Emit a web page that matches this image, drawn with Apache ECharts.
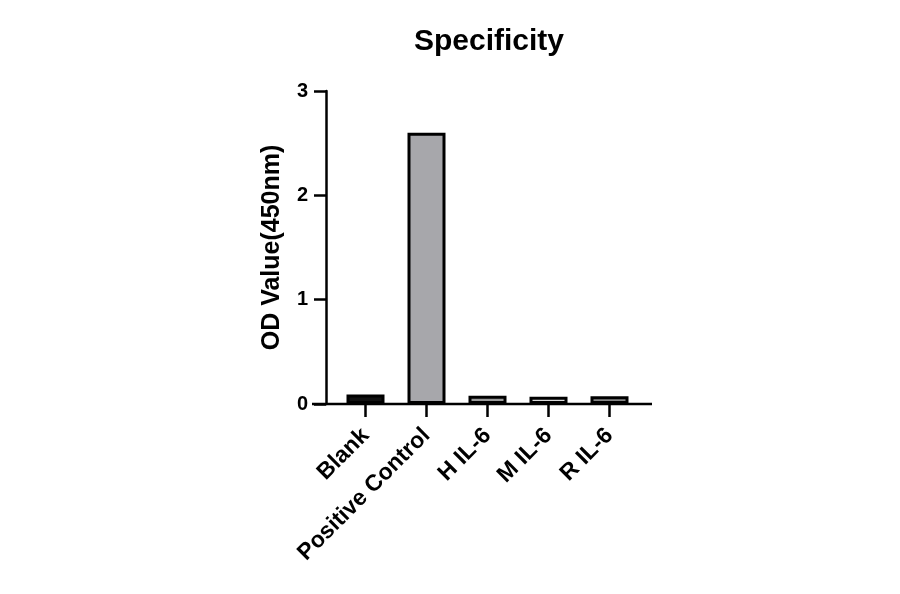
<!DOCTYPE html>
<html>
<head>
<meta charset="utf-8">
<script src="https://cdn.jsdelivr.net/npm/echarts@6/dist/echarts.min.js"></script>
<style>
  html, body { margin: 0; padding: 0; background: #fff; }
  #chart { width: 900px; height: 594px; }
</style>
</head>
<body>
<div id="chart"></div>
<script>
var categories = ['Blank', 'Positive Control', 'H IL-6', 'M IL-6', 'R IL-6'];
var odValues = [0.09, 2.6, 0.08, 0.07, 0.075];
var barFills = ['#111111', '#a7a7ab', '#9a9a9a', '#d9d9d9', '#858585'];
var yTicks = [0, 1, 2, 3];

var font = 'Liberation Sans, Arial, sans-serif';
var myChart = echarts.init(document.getElementById('chart'));

myChart.setOption({
    backgroundColor: '#fff',
    animation: false,
    title: {
        text: 'Specificity',
        left: 484,
        top: 22,
        textAlign: 'center',
        textStyle: { fontFamily: font, fontWeight: 'bold', fontSize: 30, color: '#000' }
    },
    grid: { left: 335, right: 260, top: 91, bottom: 190 },
    xAxis: {
        type: 'category',
        data: categories,
        axisLine: { show: false },
        axisTick: { show: true, alignWithLabel: true, length: 13, lineStyle: { color: '#000', width: 2.5 } },
        axisLabel: {
            rotate: 45,
            interval: 0,
            margin: 28,
            fontFamily: font,
            fontWeight: 'bold',
            fontSize: 23,
            color: '#000'
        }
    },
    yAxis: {
        type: 'value',
        min: yTicks[0],
        max: yTicks[yTicks.length - 1],
        interval: 1,
        offset: 9,
        name: 'OD Value(450nm)',
        nameLocation: 'middle',
        nameGap: 41,
        nameTextStyle: { fontFamily: font, fontWeight: 'bold', fontSize: 25, color: '#000' },
        splitLine: { show: false },
        axisLine: { show: true, lineStyle: { color: '#000', width: 2.5 } },
        axisTick: { show: true, length: 12, lineStyle: { color: '#000', width: 2.5 } },
        axisLabel: {
            margin: 18,
            fontFamily: font,
            fontWeight: 'bold',
            fontSize: 20,
            color: '#000'
        }
    },
    graphic: [
        {
            type: 'line',
            shape: { x1: 312, y1: 404, x2: 652, y2: 404 },
            style: { stroke: '#000', lineWidth: 2.5 },
            z: 10
        }
    ],
    series: [
        {
            type: 'bar',
            barWidth: 38,
            data: odValues.map(function (v, i) {
                return {
                    value: v,
                    itemStyle: { color: barFills[i], borderColor: '#000', borderWidth: 3 }
                };
            })
        }
    ]
});
</script>
</body>
</html>
